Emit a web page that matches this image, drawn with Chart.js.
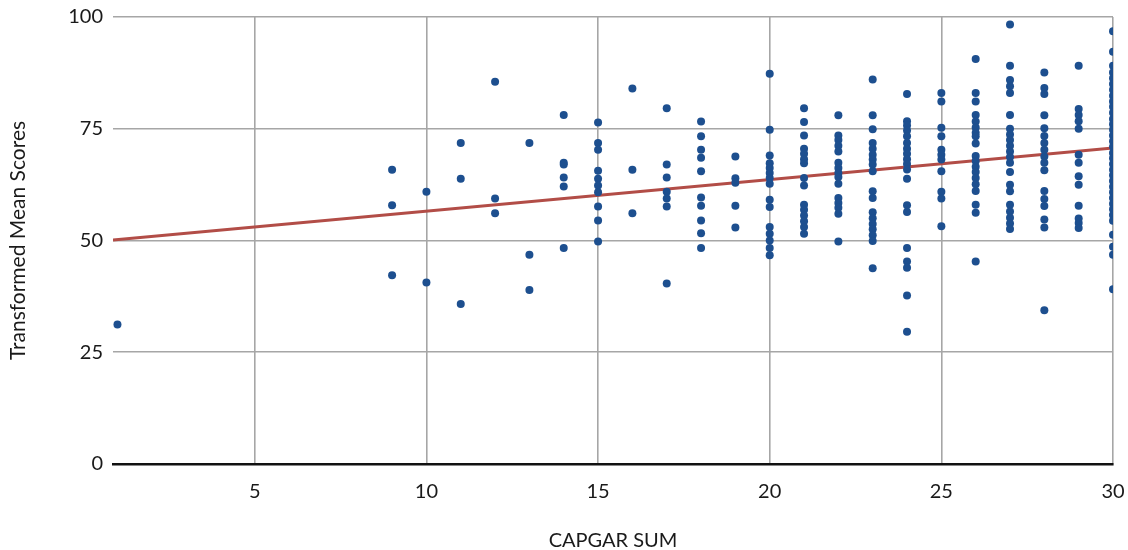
<!DOCTYPE html>
<html>
<head>
<meta charset="utf-8">
<script src="https://cdn.jsdelivr.net/npm/chart.js@4.4.1/dist/chart.umd.min.js"></script>
<style>
  html, body { margin: 0; padding: 0; background: #ffffff; }
  #wrap { width: 1128px; height: 550px; }
</style>
</head>
<body>
<div id="wrap"><canvas id="c" width="1128" height="550"></canvas></div>
<script>
// CAPGAR SUM values (x) and the transformed mean scores observed at each sum
const capgarSums = [1, 9, 10, 11, 12, 13, 14, 15, 16, 17, 18, 19, 20, 21, 22, 23, 24, 25, 26, 27, 28, 29, 30];
const scoresBySum = [
  [31.2],
  [65.8, 57.9, 42.2],
  [60.9, 40.6],
  [71.8, 63.8, 35.8],
  [85.5, 59.4, 56.1],
  [71.8, 46.8, 38.9],
  [78.1, 67.4, 67.0, 64.1, 62.1, 48.3],
  [76.4, 71.8, 70.3, 65.6, 63.8, 62.3, 60.8, 57.6, 54.5, 49.8],
  [84.0, 65.8, 56.1],
  [79.6, 67.0, 64.1, 60.9, 59.4, 57.6, 40.4],
  [76.6, 73.3, 70.3, 68.5, 65.5, 59.6, 57.8, 54.5, 51.6, 48.3],
  [68.8, 63.9, 62.9, 57.8, 52.9],
  [87.3, 74.8, 69.0, 67.3, 66.2, 65.1, 64.0, 62.7, 59.1, 57.5, 53.0, 51.5, 50.0, 48.3, 46.7],
  [79.6, 76.5, 73.5, 70.5, 69.4, 68.2, 67.3, 64.0, 62.3, 58.0, 56.9, 55.6, 54.3, 53.0, 51.5],
  [78.0, 73.5, 72.5, 71.2, 69.9, 67.4, 66.2, 65.1, 64.2, 62.7, 59.5, 58.4, 57.3, 56.0, 49.8],
  [86.0, 78.0, 74.9, 71.8, 70.5, 69.2, 68.1, 67.0, 65.5, 61.0, 59.5, 56.3, 55.0, 53.7, 52.5, 51.2, 49.9, 43.8],
  [82.8, 76.7, 75.7, 74.6, 73.3, 71.8, 70.5, 69.4, 68.2, 67.1, 65.9, 63.8, 57.9, 56.4, 48.3, 45.3, 43.9, 37.7, 29.6],
  [83.0, 81.1, 75.2, 73.3, 70.3, 69.2, 68.1, 65.5, 60.9, 59.4, 53.2],
  [90.6, 83.0, 81.1, 78.1, 76.6, 75.3, 74.1, 73.3, 71.7, 68.9, 67.8, 66.5, 65.3, 64.0, 62.6, 61.1, 58.0, 56.2, 45.3],
  [98.3, 89.1, 85.9, 84.5, 83.0, 78.1, 75.0, 73.7, 72.5, 71.2, 69.9, 68.7, 67.4, 65.3, 62.5, 61.0, 58.0, 56.5, 55.1, 53.8, 52.6],
  [87.6, 84.1, 82.8, 78.0, 75.1, 73.4, 71.8, 70.3, 68.8, 67.4, 65.7, 61.1, 59.3, 57.7, 54.7, 52.9, 34.4],
  [89.1, 79.4, 78.1, 76.7, 75.0, 69.2, 67.4, 64.4, 62.5, 57.8, 54.9, 53.9, 52.8],
  [96.8, 92.2, 89.1, 87.6, 86.3, 85.0, 83.7, 82.4, 81.1, 79.9, 78.6, 77.2, 76.0, 74.8, 73.5, 72.2, 71.0, 69.6, 68.4, 67.1, 65.8, 64.6, 63.3, 62.0, 60.8, 59.5, 58.2, 57.0, 55.7, 54.4, 51.3, 48.6, 46.8, 39.1]
];
// Fitted trend line end points
const trendX = [0.87, 30];
const trendY = [50.1, 70.7];
// Axis tick labels
const xTicks = [5, 10, 15, 20, 25, 30];
const yTicks = [0, 25, 50, 75, 100];

const scatterPoints = [];
capgarSums.forEach((s, i) => scoresBySum[i].forEach(v => scatterPoints.push({ x: s, y: v })));
const trendPoints = trendX.map((x, i) => ({ x: x, y: trendY[i] }));

const FONT = 'Lato, "Open Sans", sans-serif';

new Chart(document.getElementById('c'), {
  type: 'scatter',
  data: {
    datasets: [
      {
        type: 'scatter',
        data: scatterPoints,
        backgroundColor: '#1d4f8f',
        borderColor: '#1d4f8f',
        borderWidth: 0,
        pointRadius: 4,
        order: 1
      },
      {
        type: 'line',
        data: trendPoints,
        borderColor: '#b24d47',
        borderWidth: 3,
        pointRadius: 0,
        fill: false,
        tension: 0,
        order: 2
      }
    ]
  },
  options: {
    responsive: false,
    animation: false,
    devicePixelRatio: 1,
    layout: { padding: { top: 17, right: 15, bottom: 0, left: 0 } },
    plugins: { legend: { display: false }, tooltip: { enabled: false } },
    scales: {
      x: {
        type: 'linear',
        min: trendX[0],
        max: 30,
        afterBuildTicks: (s) => { s.ticks = xTicks.map(v => ({ value: v })); },
        afterFit: (s) => { s.height = 86; s.paddingLeft = 0; s.paddingRight = 0; },
        grid: { color: '#a6a6a6', lineWidth: 1.6, drawTicks: false },
        border: { display: true, color: '#111111', width: 2.5 },
        ticks: { font: { family: FONT, size: 20 }, color: '#1a1a1a', padding: 16, maxRotation: 0 },
        title: { display: true, text: 'CAPGAR SUM', font: { family: FONT, size: 20 }, color: '#1a1a1a', padding: { top: 0, bottom: -3 } }
      },
      y: {
        type: 'linear',
        min: 0,
        max: 100,
        afterBuildTicks: (s) => { s.ticks = yTicks.map(v => ({ value: v })); },
        afterFit: (s) => { s.width = 113; s.paddingTop = 0; s.paddingBottom = 0; },
        grid: { color: '#a6a6a6', lineWidth: 1.6, drawTicks: false },
        border: { display: false },
        ticks: { font: { family: FONT, size: 20 }, color: '#1a1a1a', padding: 10 },
        title: { display: true, text: 'Transformed Mean Scores', font: { family: FONT, size: 21 }, color: '#1a1a1a', padding: { top: 6, bottom: 0 } }
      }
    }
  }
});
</script>
</body>
</html>
